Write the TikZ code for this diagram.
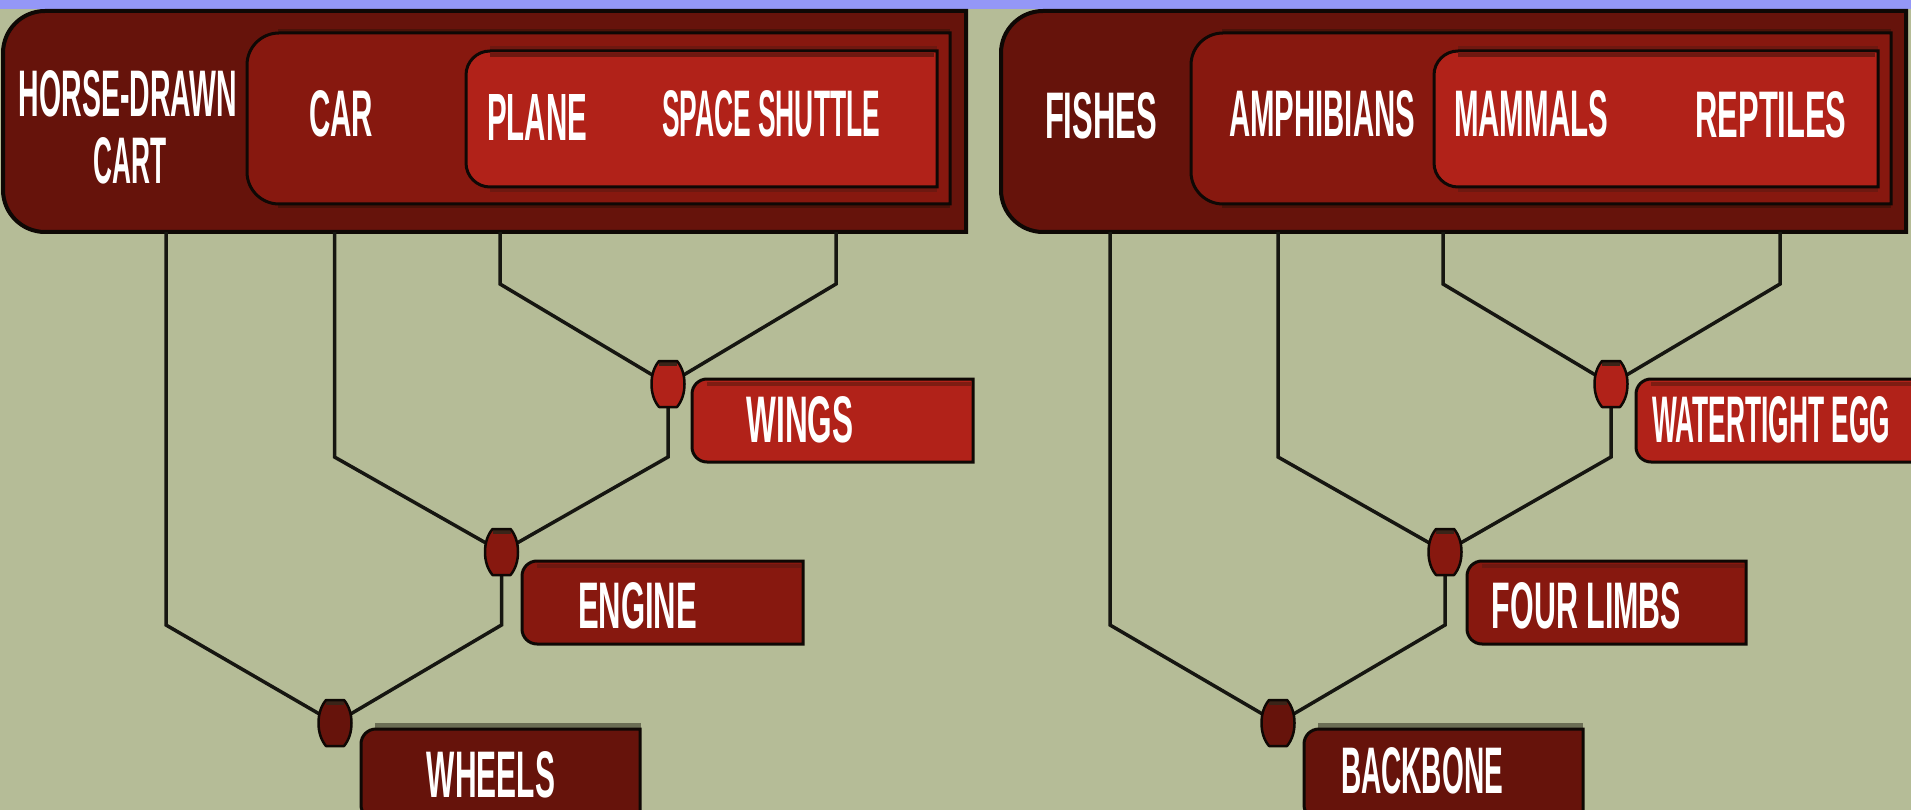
\documentclass[tikz,border=0pt]{standalone}
\usepackage{fontspec}
\setmainfont{Liberation Sans}
\usetikzlibrary{calc,shapes.geometric}
\definecolor{bg}{HTML}{B5BC97}
\definecolor{band}{HTML}{9497F7}
\definecolor{cA}{HTML}{66130B}
\definecolor{cB}{HTML}{87180F}
\definecolor{cC}{HTML}{B12219}
\definecolor{bev}{HTML}{4A1208}
\definecolor{bevB}{HTML}{6E1810}
\definecolor{bevC}{HTML}{7E1C12}
\definecolor{ink}{HTML}{161611}
\definecolor{edge}{HTML}{0E0805}
\definecolor{capc}{HTML}{3A2418}
\definecolor{shad}{HTML}{6B6E55}
\newcommand\sqtext[2]{\resizebox{#1pt}{46pt}{\bfseries #2}}
% box with rounded left side: x1 y1 x2 y2 r style
\newcommand\roundleftbox[6]{%
  \path[#6] (#3,#2) -- ({#1+#5},#2) .. controls ({#1+0.448*#5},#2) and (#1,{#2+0.448*#5}) .. (#1,{#2+#5})
    -- (#1,{#4-#5}) .. controls (#1,{#4-0.448*#5}) and ({#1+0.448*#5},#4) .. ({#1+#5},#4) -- (#3,#4) -- cycle;}
\newcommand\juncpath[1]{($(#1)+(-9,-23)$) -- ($(#1)+(9,-23)$) .. controls ($(#1)+(14,-17)$) and ($(#1)+(16.5,-9)$) .. ($(#1)+(16.5,0)$)
    .. controls ($(#1)+(16.5,9)$) and ($(#1)+(14,17)$) .. ($(#1)+(9,23)$) -- ($(#1)+(-9,23)$)
    .. controls ($(#1)+(-14,17)$) and ($(#1)+(-16.5,9)$) .. ($(#1)+(-16.5,0)$)
    .. controls ($(#1)+(-16.5,-9)$) and ($(#1)+(-14,-17)$) .. ($(#1)+(-9,-23)$) -- cycle}
\newcommand\juncshape[2]{%
  \fill[#2] \juncpath{#1};
  \fill[capc] ($(#1)+(-9,-23)$) rectangle ($(#1)+(9,-18.5)$);
  \draw[edge, line width=2.5pt, line join=round] \juncpath{#1};}
\begin{document}
\begin{tikzpicture}[x=1pt,y=-1pt,
  txt/.style={inner sep=0pt, text=white},
  jn/.style={ellipse, minimum width=34pt, minimum height=47pt, inner sep=0pt},
  conn/.style={draw=ink, line width=3.5pt, line join=miter},
  boxline/.style={draw=edge, line width=3pt}]
\useasboundingbox (0,0) rectangle (1911,810);
\fill[bg] (0,0) rectangle (1911,810);
\fill[band] (0,0) rectangle (1911,9);

% ---------- top boxes, left ----------
\roundleftbox{3}{11}{966}{232}{42}{fill=cA, draw=edge, line width=4pt}
\fill[bev] (278,29) rectangle (950,208);
\roundleftbox{247}{33}{950}{204}{32}{fill=cB, boxline}
\fill[bevB] (490,46) rectangle (937,192);
\roundleftbox{466}{51}{937}{187}{24}{fill=cC, boxline}
\draw[bevB, line width=4pt] (490,55) -- (934,55);
% ---------- top boxes, right ----------
\roundleftbox{1001}{11}{1906}{232}{42}{fill=cA, draw=edge, line width=4pt}
\fill[bev] (1222,29) rectangle (1891,208);
\roundleftbox{1191}{33}{1891}{204}{32}{fill=cB, boxline}
\fill[bevB] (1458,46) rectangle (1878,192);
\roundleftbox{1434}{51}{1878}{187}{24}{fill=cC, boxline}
\draw[bevB, line width=4pt] (1458,55) -- (1875,55);

% ---------- label boxes ----------
\roundleftbox{692}{379}{973}{462}{15}{fill=cC, boxline}
\draw[bevC, line width=4pt] (707,383.5) -- (971,383.5);
\roundleftbox{522}{561}{803}{644}{15}{fill=cB, boxline}
\draw[bevB, line width=4pt] (537,565.5) -- (801,565.5);
\fill[shad] (375,723) rectangle (641,728);
\roundleftbox{361}{729}{640}{820}{15}{fill=cA, boxline}
\roundleftbox{1636}{379}{1925}{462}{15}{fill=cC, boxline}
\draw[bevC, line width=4pt] (1651,383.5) -- (1911,383.5);
\roundleftbox{1467}{561}{1746}{644}{15}{fill=cB, boxline}
\draw[bevB, line width=4pt] (1482,565.5) -- (1744,565.5);
\fill[shad] (1318,723) rectangle (1583,728);
\roundleftbox{1304}{729}{1583}{820}{15}{fill=cA, boxline}

% ---------- junction nodes ----------
\node[jn] (wj) at (668,384) {};
\node[jn] (ej) at (501.5,552) {};
\node[jn] (hj) at (335,723) {};
\node[jn] (gj) at (1611,384) {};
\node[jn] (lj) at (1445,552) {};
\node[jn] (bj) at (1278,723) {};

\coordinate (t1) at (0,284);
\coordinate (t2) at (0,457);
\coordinate (t3) at (0,625);
\coordinate (horseB) at (166,232);
\coordinate (carB) at (334.5,232);
\coordinate (planeB) at (500,232);
\coordinate (shuttleB) at (836,232);
\coordinate (fishB) at (1110,232);
\coordinate (amphB) at (1278,232);
\coordinate (mammB) at (1443,232);
\coordinate (reptB) at (1780,232);

% ---------- connectors ----------
\draw[conn] (planeB) -- (planeB |- t1) -- (wj.150);
\draw[conn] (shuttleB) -- (shuttleB |- t1) -- (wj.30);
\draw[conn] (wj.south) -- (wj.south |- t2) -- (ej.30);
\draw[conn] (carB) -- (carB |- t2) -- (ej.150);
\draw[conn] (ej.south) -- (ej.south |- t3) -- (hj.30);
\draw[conn] (horseB) -- (horseB |- t3) -- (hj.150);

\draw[conn] (mammB) -- (mammB |- t1) -- (gj.150);
\draw[conn] (reptB) -- (reptB |- t1) -- (gj.30);
\draw[conn] (gj.south) -- (gj.south |- t2) -- (lj.30);
\draw[conn] (amphB) -- (amphB |- t2) -- (lj.150);
\draw[conn] (lj.south) -- (lj.south |- t3) -- (bj.30);
\draw[conn] (fishB) -- (fishB |- t3) -- (bj.150);

\juncshape{wj}{cC}
\juncshape{ej}{cB}
\juncshape{hj}{cA}
\juncshape{gj}{cC}
\juncshape{lj}{cB}
\juncshape{bj}{cA}

% ---------- texts ----------
\node[txt] (horse) at (128,94) {\sqtext{218}{HORSE-DRAWN}};
\node[txt] (cart) at (130,161) {\sqtext{73}{CART}};
\node[txt] (car) at (341,114) {\sqtext{64}{CAR}};
\node[txt] (plane) at (537,117) {\sqtext{100}{PLANE}};
\node[txt] (shuttle) at (771,114) {\sqtext{218}{SPACE SHUTTLE}};
\node[txt] (fishes) at (1101,116) {\sqtext{112}{FISHES}};
\node[txt] (amph) at (1322,114) {\sqtext{186}{AMPHIBIANS}};
\node[txt] (mamm) at (1531,114) {\sqtext{154}{MAMMALS}};
\node[txt] (rept) at (1771,115) {\sqtext{151}{REPTILES}};

\node[txt] (wings) at (800,420) {\sqtext{107}{WINGS}};
\node[txt] (engine) at (637.5,606) {\sqtext{119}{ENGINE}};
\node[txt] (wheels) at (491,775) {\sqtext{128}{WHEELS}};
\node[txt] (egg) at (1771,420) {\sqtext{238}{WATERTIGHT EGG}};
\node[txt] (limbs) at (1586.5,606) {\sqtext{189}{FOUR LIMBS}};
\node[txt] (backbone) at (1422,771) {\sqtext{162}{BACKBONE}};
\end{tikzpicture}
\end{document}
